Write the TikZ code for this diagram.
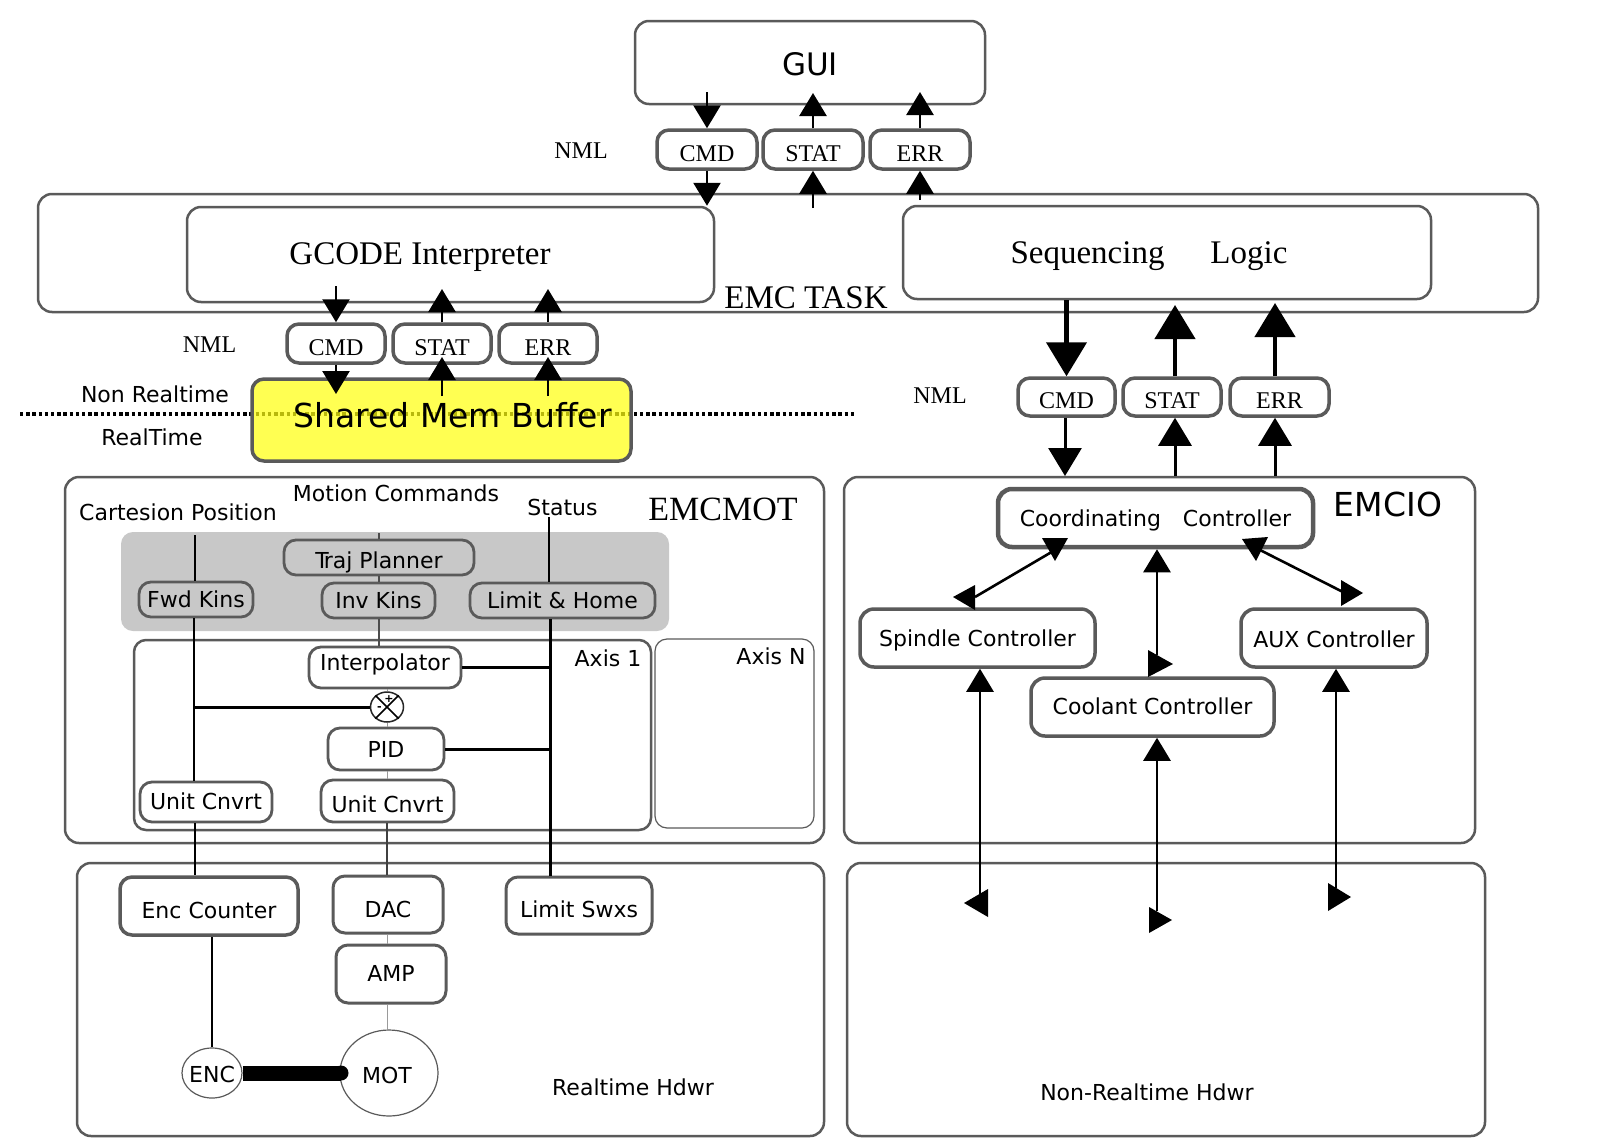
\documentclass[tikz,border=0pt]{standalone}
\usepackage{fontspec}
\setmainfont{Liberation Serif}
\newfontfamily\sansf{DejaVu Sans}
\usetikzlibrary{arrows.meta,shapes.geometric}
\newcommand\myfs[1]{\fontsize{#1}{#1}\selectfont}
\definecolor{bord}{HTML}{5A5A5A}
\definecolor{ylw}{HTML}{FFFF10}
\definecolor{panelg}{HTML}{C8C8C8}
\definecolor{lgray}{HTML}{9A9A9A}
\tikzset{
 sz/.style 2 args={minimum width=#1,minimum height=#2},
 bl/.style={text height=#1,text depth=0pt},
 frame/.style={draw=bord,line width=2.5pt,rounded corners=14pt,fill=white,inner sep=0pt},
 nmlbox/.style={draw=bord,line width=3.5pt,rounded corners=12pt,fill=white,inner sep=0pt,minimum height=39pt,bl=23pt,font=\myfs{24}},
 sbox/.style={draw=bord,line width=2.8pt,rounded corners=12pt,fill=white,inner sep=0pt,font=\sansf\myfs{22}},
 pbox/.style={sbox,fill=none},
 ctl/.style={sbox,line width=3.5pt,rounded corners=14pt},
 slbl/.style={anchor=base,inner sep=0pt,font=\sansf\myfs{22}},
 rlbl/.style={anchor=base,inner sep=0pt,font=\myfs{#1}},
 arr/.style={line width=2.6pt,-{Triangle[width=27pt,length=23pt]}},
 bigarr/.style={line width=4.5pt,-{Triangle[width=40pt,length=34pt]}},
 midarr/.style={line width=3pt,-{Triangle[width=33pt,length=28pt]}},
 thk/.style={line width=3pt},
 thn/.style={line width=1.1pt},
 gry/.style={line width=1pt,draw=lgray},
}
\begin{document}
\begin{tikzpicture}[x=1pt,y=-1pt]
\useasboundingbox (0,0) rectangle (1600,1143);
\fill[white] (0,0) rectangle (1600,1143);

% ---------- GUI and first NML row
\node[frame,sz={350pt}{83pt},bl=25pt,font=\sansf\myfs{31}] (gui) at (810,62.5) {GUI};
\node[nmlbox,minimum width=100pt] (cmdA) at (707,149.5) {CMD};
\node[nmlbox,minimum width=100pt] (statA) at (813,149.5) {STAT};
\node[nmlbox,minimum width=100pt] (errA) at (920,149.5) {ERR};
\node[rlbl=24] (nmlA) at (581,158) {NML};

% ---------- EMC TASK
\node[frame,sz={1500pt}{118pt}] (task) at (788,253) {};
\node[frame,sz={527pt}{95pt}] (gcode) at (450.5,254.5) {};
\node[rlbl=33] (gcodet) at (420,264) {GCODE Interpreter};
\node[frame,sz={528pt}{93pt}] (seq) at (1167,252.5) {};
\node[rlbl=33] (seqt) at (1149,263) {Sequencing\hspace{46pt}Logic};
\node[rlbl=33] (taskt) at (806,308) {EMC TASK};

% arrows GUI <-> TASK
\coordinate (gC) at (707,92);
\coordinate (gS) at (813,93);
\coordinate (gE) at (920,92);
\coordinate (tS) at (813,208);
\coordinate (tE) at (920,200);
\draw[arr] (gC) -- (cmdA.north);
\draw[arr] (statA.north) -- (gS);
\draw[arr] (errA.north) -- (gE);
\draw[arr] (cmdA.south) -- (cmdA.south |- gcode.north);
\draw[arr] (tS) -- (statA.south);
\draw[arr] (tE) -- (errA.south);

% ---------- second NML row and shared memory
\node[nmlbox,minimum width=98pt] (cmdB) at (336,343.5) {CMD};
\node[nmlbox,minimum width=98pt] (statB) at (442,343.5) {STAT};
\node[nmlbox,minimum width=98pt] (errB) at (548,343.5) {ERR};
\node[rlbl=24] (nmlB) at (209.5,352) {NML};

\coordinate (dotL) at (20,414);
\coordinate (dotR) at (855,414);
\draw[line width=3.6pt,dash pattern=on 3.4pt off 2.8pt] (dotL) -- (dotR);
\node[draw=bord,line width=3.5pt,rounded corners=12pt,fill=ylw,fill opacity=0.72,text opacity=1,
      inner sep=0pt,sz={379pt}{82pt},bl=14pt,font=\sansf\myfs{33}] (shm) at (441.5,420) {\hspace*{22pt}Shared Mem Buffer};
\node[slbl] (nrt) at (155,402) {Non Realtime};
\node[slbl] (rt) at (152,445) {RealTime};

\coordinate (gcC) at (336,286);
\coordinate (gcS) at (442,289);
\coordinate (gcE) at (548,289);
\coordinate (shC) at (336,394);
\coordinate (shS) at (442,396);
\coordinate (shE) at (548,396);
\coordinate (sbS) at (442,357);
\coordinate (sbE) at (548,357);
\draw[arr] (gcC) -- (cmdB.north);
\draw[arr] (statB.north) -- (gcS);
\draw[arr] (errB.north) -- (gcE);
\draw[arr] (cmdB.south) -- (shC);
\draw[arr] (shS) -- (sbS);
\draw[arr] (shE) -- (sbE);

% ---------- third NML row (EMCIO side)
\node[nmlbox,minimum width=97pt,minimum height=38pt] (cmdC) at (1066.5,397) {CMD};
\node[nmlbox,minimum width=98pt,minimum height=38pt] (statC) at (1172,397) {STAT};
\node[nmlbox,minimum width=99pt,minimum height=38pt] (errC) at (1279.5,397) {ERR};
\node[rlbl=24] (nmlC) at (940,403) {NML};

% ---------- EMCMOT
\node[frame,sz={759pt}{366pt}] (emcmot) at (444.5,660) {};
\node[rlbl=34] (emcmott) at (723,520) {EMCMOT};
\node[slbl] (motc) at (396,501) {Motion Commands};
\node[slbl] (cart) at (178,520) {Cartesion Position};
\node[slbl] (stat) at (562.5,515) {Status};
\node[fill=panelg,rounded corners=12pt,inner sep=0pt,sz={548pt}{99pt}] (panel) at (395,581.5) {};
\node[pbox,sz={190pt}{35pt},bl=21pt] (traj) at (379,557.5) {T\kern-5pt raj Planner};
\node[pbox,sz={114pt}{35pt},bl=15pt] (fwd) at (196,599.5) {Fwd Kins};
\node[pbox,sz={113pt}{35pt},bl=15pt] (inv) at (378.5,600.5) {Inv Kins};
\node[pbox,sz={185pt}{35pt},bl=15pt] (lim) at (562.5,600.5) {Limit \& Home};
\node[draw=bord,line width=2.5pt,rounded corners=12pt,fill=white,inner sep=0pt,sz={517pt}{190pt}] (ax1) at (392.5,735) {};
\node[draw=bord,line width=1.2pt,rounded corners=12pt,fill=white,inner sep=0pt,sz={159pt}{189pt}] (axn) at (734.5,733.5) {};
\node[slbl] (ax1t) at (608,666) {Axis 1};
\node[slbl] (axnt) at (771,664) {Axis N};
\node[sbox,sz={152pt}{41pt},bl=5pt] (interp) at (385,667.5) {Interpolator};
\node[ellipse,draw=black!85,line width=1.5pt,fill=white,inner sep=0pt,minimum width=33pt,minimum height=30pt] (sum) at (387,707) {};
\draw[line width=1.6pt] (sum.135) -- (sum.-45) (sum.45) -- (sum.-135);
\node[inner sep=0pt,font=\sansf\bfseries\myfs{11}] (plus) at (389,699) {+};
\node[inner sep=0pt,font=\sansf\bfseries\myfs{11}] (minus) at (379.5,709) {-};
\node[sbox,sz={116pt}{42pt},bl=16pt] (pid) at (386,749) {PID};
\node[sbox,sz={132pt}{40pt},bl=14pt] (uL) at (206,802) {Unit Cnvrt};
\node[sbox,sz={133pt}{42pt},bl=22pt] (uR) at (387.5,801) {Unit Cnvrt};

% ---------- Realtime hardware
\node[frame,sz={747pt}{273pt}] (rthw) at (450.5,999.5) {};
\node[sbox,line width=3.5pt,sz={178pt}{58pt},bl=24pt] (encc) at (209,906) {Enc Counter};
\node[sbox,line width=3pt,sz={110pt}{57pt},bl=25pt] (dac) at (388,904.5) {DAC};
\node[sbox,line width=3pt,sz={110pt}{58pt},bl=14pt] (amp) at (391,974) {AMP};
\node[sbox,line width=3pt,sz={146pt}{57pt},bl=23pt] (limsw) at (579,905.5) {Limit Swxs};
\node[ellipse,draw=bord,line width=1.2pt,fill=white,inner sep=0pt,minimum width=60pt,minimum height=50pt] (enc) at (212,1073) {};
\node[ellipse,draw=bord,line width=1.2pt,fill=white,inner sep=0pt,minimum width=98pt,minimum height=86pt] (mot) at (389,1073) {};
\coordinate (shaftE) at (341,1073);
\draw[line width=15pt] (enc.east) -- (shaftE);
\fill (shaftE) circle (7.5pt);
\node[slbl] (enct) at (212,1082) {ENC};
\node[slbl] (mott) at (387,1083) {MOT};
\node[slbl] (rtht) at (633,1095) {Realtime Hdwr};

% ---------- EMCMOT wiring
\coordinate (cartE) at (195,535);
\coordinate (fwdX) at (194,708);
\coordinate (motE) at (379,533);
\coordinate (statE) at (549,517);
\coordinate (limX) at (550,0);
\coordinate (dacX) at (387,0);
\draw[thn] (cartE) -- (cartE |- fwd.north);
\draw[line width=2.2pt] (fwdX |- fwd.south) -- (fwdX |- uL.north);
\draw[thk] (fwdX |- sum.west) -- (sum.west);
\draw[thn] (cartE |- uL.south) -- (cartE |- encc.north);
\draw[thn,draw=black!70] (motE) -- (motE |- traj.north);
\draw[thn,draw=black!70] (motE |- traj.south) -- (motE |- inv.north);
\draw[thn,draw=black!70] (motE |- inv.south) -- (motE |- interp.north);
\draw[thn] (statE) -- (statE |- lim.north);
\draw[thk] (limX |- lim.south) -- (limX |- limsw.north);
\draw[thk] (interp.east) -- (interp.east -| limX);
\draw[thk] (pid.east) -- (pid.east -| limX);
\draw[gry] (sum.north |- interp.south) -- (sum.north);
\draw[gry] (sum.south) -- (sum.south |- pid.north);
\draw[gry] (sum.south |- pid.south) -- (sum.south |- uR.north);
\draw[thn,draw=black!75] (dacX |- uR.south) -- (dacX |- dac.north);
\draw[gry] (dacX |- dac.south) -- (dacX |- amp.north);
\draw[gry] (dacX |- amp.south) -- (dacX |- mot.north);
\draw[thn] (enc.north) -- (enc.north |- encc.south);

% ---------- EMCIO
\node[frame,sz={631pt}{366pt}] (emcio) at (1159.5,660) {};
\node[anchor=base,inner sep=0pt,font=\sansf\myfs{33}] (emciot) at (1388,516) {EMCIO};
\node[ctl,line width=4.5pt,sz={315pt}{58pt},bl=16pt] (coord) at (1155.5,518) {Coordinating\hspace{22pt}Controller};
\node[ctl,sz={235pt}{58pt},bl=16pt] (spin) at (977.5,638) {Spindle Controller};
\node[ctl,sz={186pt}{58pt},bl=18pt] (aux) at (1334,638) {AUX Controller};
\node[ctl,sz={243pt}{58pt},bl=14pt] (cool) at (1152.5,707) {Coolant Controller};
\node[frame,sz={638pt}{273pt}] (nrthw) at (1166,999.5) {};
\node[slbl] (nrtht) at (1147,1100) {Non-Realtime Hdwr};

% TASK <-> NML <-> EMCIO
\coordinate (sqS) at (1175,305);
\coordinate (sqE) at (1275,303);
\coordinate (ioC) at (1065,476);
\coordinate (ioS) at (1175,476);
\coordinate (ioE) at (1275,476);
\draw[bigarr] (cmdC.north |- seq.south) -- (cmdC.north);
\draw[bigarr] (sqS |- statC.north) -- (sqS);
\draw[bigarr] (sqE |- errC.north) -- (sqE);
\draw[midarr] (ioC |- cmdC.south) -- (ioC);
\draw[midarr] (ioS) -- (ioS |- statC.south);
\draw[midarr] (ioE) -- (ioE |- errC.south);

% EMCIO internal connectors
\coordinate (csA) at (1055,550);
\coordinate (csB) at (975,597);
\coordinate (caA) at (1260,550);
\coordinate (caB) at (1343,592);
\coordinate (ccB) at (1157,655);
\coordinate (spB) at (980,895);
\coordinate (coB) at (1157,911);
\coordinate (auB) at (1336,888);
\draw[line width=2.6pt] (csA) -- (csB);
\draw[line width=2.6pt] (caA) -- (caB);
\draw[arr] (ccB) -- (ccB |- coord.south);
\draw[arr] (spB) -- (spB |- spin.south);
\draw[arr] (coB) -- (coB |- cool.south);
\draw[arr] (auB) -- (auB |- aux.south);
\fill (1042,538) -- (1068,538) -- (1055,561) -- cycle;
\fill (953,597) -- (975,585) -- (975,610) -- cycle;
\fill (1242,539) -- (1268,537) -- (1256,561) -- cycle;
\fill (1341,580) -- (1341,606) -- (1363,593) -- cycle;
\fill (1148,650) -- (1148,677) -- (1173,664) -- cycle;
\fill (964,903) -- (988,889) -- (988,917) -- cycle;
\fill (1149,907) -- (1149,933) -- (1172,920) -- cycle;
\fill (1328,883) -- (1328,911) -- (1351,897) -- cycle;
\end{tikzpicture}
\end{document}
